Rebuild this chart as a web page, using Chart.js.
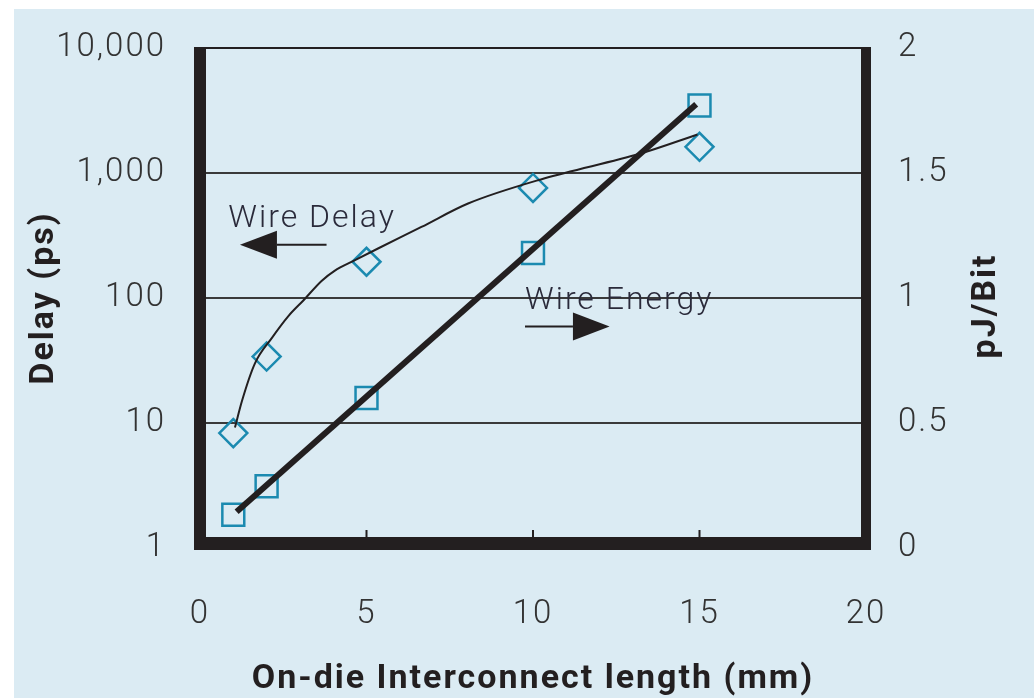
<!DOCTYPE html>
<html>
<head>
<meta charset="utf-8">
<title>Wire delay and energy</title>
<script src="https://cdn.jsdelivr.net/npm/chart.js@4.4.1/dist/chart.umd.min.js"></script>
<style>
  html, body { margin: 0; padding: 0; background: #fff; }
  #wrap { width: 1034px; height: 698px; position: relative; }
</style>
</head>
<body>
<div id="wrap"><canvas id="wireChart" width="1034" height="698"></canvas></div>
<script>
// interconnect length (mm) where the samples were taken
const lengths = [1, 2, 5, 10, 15];
// delay in ps (left, log axis)
const delayValues = [8.3, 34, 195, 760, 1620];
// energy in pJ/bit (right axis)
const energyValues = [0.133, 0.247, 0.6, 1.18, 1.77];

// hand-drawn trend through the delay points
const delayTrendX = [1.05, 1.26, 1.65, 2.16, 2.66, 3.11, 3.65, 4.04, 4.64, 5.36, 6.65, 8.05, 10.33, 13.23, 14.94];
const delayTrendY = [9.2, 15, 30, 48, 72, 96, 137, 165, 200, 250, 370, 570, 904, 1430, 2030];

// straight fit for energy
const energyFitX = [1.1, 14.9];
const energyFitY = [0.145, 1.775];

const delayTicks = [1, 10, 100, 1000, 10000];
const delayTickLabels = ['1', '10', '100', '1,000', '10,000'];
const energyTicks = [0, 0.5, 1, 1.5, 2];
const lengthTicks = [0, 5, 10, 15, 20];

const INK = '#231f20';
const TEAL = '#1b8ab0';
const BG = '#dbebf3';

const toPoints = (xs, ys) => xs.map((x, i) => ({ x: x, y: ys[i] }));

// page background: light blue panel with white strip at top and left
const panelBg = {
  id: 'panelBg',
  beforeDraw(chart) {
    const ctx = chart.ctx;
    ctx.save();
    ctx.fillStyle = '#ffffff';
    ctx.fillRect(0, 0, chart.width, chart.height);
    ctx.fillStyle = BG;
    ctx.fillRect(14, 9, chart.width - 14, chart.height - 9);
    ctx.restore();
    // the whole figure uses slightly tracked-out lettering
    ctx.letterSpacing = '2px';
  },
  afterDraw(chart) {
    chart.ctx.letterSpacing = '0px';
  }
};

// frame, inner ticks, arrows and labels
const frame = {
  id: 'frame',
  afterDatasetsDraw(chart) {
    const ctx = chart.ctx;
    const a = chart.chartArea;
    const xs = chart.scales.x;
    const ys = chart.scales.y2;
    ctx.save();
    ctx.fillStyle = INK;
    // top thin line
    ctx.fillRect(a.left, a.top - 1, a.right - a.left, 2);
    // thick left, bottom, right
    ctx.fillRect(a.left - 6, a.top - 1, 12, a.bottom - a.top + 3);
    ctx.fillRect(a.right - 5, a.top - 1, 10, a.bottom - a.top + 3);
    ctx.fillRect(a.left - 6, a.bottom - 11, a.right - a.left + 11, 13);
    // small ticks on the inside of the bottom edge
    [5, 10, 15].forEach(v => {
      const px = xs.getPixelForValue(v);
      ctx.fillRect(px - 1, a.bottom - 18, 2, 8);
    });

    function arrow(x0, x1, xBase, yv) {
      const y = ys.getPixelForValue(yv);
      const p0 = xs.getPixelForValue(x0);
      const tip = xs.getPixelForValue(x1);
      const base = xs.getPixelForValue(xBase);
      ctx.strokeStyle = INK;
      ctx.lineWidth = 2;
      ctx.beginPath();
      ctx.moveTo(p0, y);
      ctx.lineTo(base, y);
      ctx.stroke();
      ctx.beginPath();
      ctx.moveTo(tip, y);
      ctx.lineTo(base, y - 14);
      ctx.lineTo(base, y + 14);
      ctx.closePath();
      ctx.fill();
    }

    ctx.font = '300 32px Roboto';
    ctx.fillStyle = '#2a2a3a';
    ctx.textAlign = 'left';
    ctx.textBaseline = 'alphabetic';
    ctx.fillText('Wire Delay', xs.getPixelForValue(0.85), ys.getPixelForValue(1.285));
    ctx.fillText('Wire Energy', xs.getPixelForValue(9.76), ys.getPixelForValue(0.958));
    ctx.fillStyle = INK;
    arrow(3.8, 1.2, 2.31, 1.213);
    arrow(9.76, 12.3, 11.2, 0.886);

    // right axis title, reading upward
    ctx.font = 'bold 34px Roboto';
    ctx.textAlign = 'center';
    ctx.textBaseline = 'middle';
    ctx.translate(986, 306);
    ctx.rotate(-Math.PI / 2);
    ctx.fillText('pJ/Bit', 0, 0);
    ctx.restore();
  }
};

const tickFont = { family: 'Roboto', size: 33, weight: '300' };
const titleFont = { family: 'Roboto', size: 34, weight: 'bold', lineHeight: 1.1 };

const noPad = s => {
  s.paddingTop = 0;
  s.paddingBottom = 0;
  s.paddingLeft = 0;
  s.paddingRight = 0;
};

new Chart(document.getElementById('wireChart'), {
  type: 'scatter',
  data: {
    datasets: [
      {
        label: 'Wire Energy fit',
        type: 'line',
        data: toPoints(energyFitX, energyFitY),
        yAxisID: 'y2',
        borderColor: INK,
        borderWidth: 6,
        pointRadius: 0,
        fill: false,
        order: 0
      },
      {
        label: 'Wire Delay trend',
        type: 'line',
        data: toPoints(delayTrendX, delayTrendY),
        yAxisID: 'y',
        borderColor: INK,
        borderWidth: 2,
        pointRadius: 0,
        cubicInterpolationMode: 'monotone',
        fill: false,
        order: 0
      },
      {
        label: 'Wire Delay',
        data: toPoints(lengths, delayValues),
        yAxisID: 'y',
        pointStyle: 'rectRot',
        pointRadius: 14,
        pointBorderWidth: 2.5,
        pointBorderColor: TEAL,
        pointBackgroundColor: 'rgba(0,0,0,0)',
        order: 1
      },
      {
        label: 'Wire Energy',
        data: toPoints(lengths, energyValues),
        yAxisID: 'y2',
        pointStyle: 'rect',
        pointRadius: 15.5,
        pointBorderWidth: 2.5,
        pointBorderColor: TEAL,
        pointBackgroundColor: 'rgba(0,0,0,0)',
        order: 1
      }
    ]
  },
  options: {
    responsive: false,
    animation: false,
    layout: { padding: { top: 48, left: 0, right: 0, bottom: 0 } },
    plugins: {
      legend: { display: false },
      tooltip: { enabled: false }
    },
    scales: {
      x: {
        type: 'linear',
        min: 0,
        max: 20,
        afterBuildTicks: s => { s.ticks = lengthTicks.map(v => ({ value: v })); },
        afterFit: s => { s.height = 150; noPad(s); },
        grid: { display: false },
        border: { display: false },
        ticks: { font: tickFont, color: '#333', padding: 39, maxRotation: 0 },
        title: {
          display: true,
          text: 'On-die Interconnect length (mm)',
          font: titleFont,
          color: INK,
          padding: { top: 0, bottom: 0 }
        }
      },
      y: {
        type: 'logarithmic',
        position: 'left',
        min: 1,
        max: 10000,
        afterBuildTicks: s => { s.ticks = delayTicks.map(v => ({ value: v })); },
        afterFit: s => { s.width = 200; noPad(s); },
        grid: { color: '#3a3a3a', lineWidth: 2, drawTicks: false },
        border: { display: false },
        ticks: {
          font: tickFont,
          color: '#333',
          padding: 34,
          callback: v => delayTickLabels[delayTicks.indexOf(v)]
        },
        title: {
          display: true,
          text: 'Delay (ps)',
          font: titleFont,
          color: INK,
          padding: { top: 26, bottom: 0 }
        }
      },
      y2: {
        type: 'linear',
        position: 'right',
        min: 0,
        max: 2,
        afterBuildTicks: s => { s.ticks = energyTicks.map(v => ({ value: v })); },
        afterFit: s => { s.width = 168; noPad(s); },
        grid: { display: false, drawTicks: false },
        border: { display: false },
        ticks: { font: tickFont, color: '#333', padding: 32, callback: v => String(v) }
      }
    }
  },
  plugins: [panelBg, frame]
});
</script>
</body>
</html>
